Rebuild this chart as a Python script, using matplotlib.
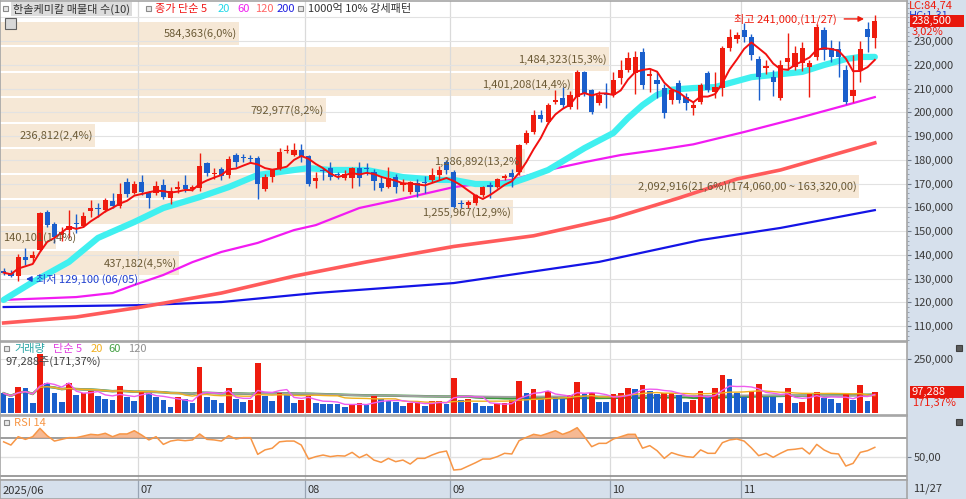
import numpy as np
import pandas as pd
import matplotlib
matplotlib.use("Agg")
import matplotlib.pyplot as plt
from matplotlib.patches import Rectangle
from matplotlib.ticker import FuncFormatter, MultipleLocator

plt.rcParams['font.family'] = ['Noto Sans CJK KR', 'DejaVu Sans']

# ---- daily candles, 2025/06/02 .. 2025/11/27 ----
opens = [133000,132500,131000,139000,138500,142000,158000,153000,148500,150500,
         153500,152000,158500,159500,159000,162500,160500,170500,166000,170500,
         166500,166000,169500,164000,167500,169500,167500,168000,178500,174000,
         176000,173500,182000,181000,180600,180700,167700,172700,176500,183800,
         182000,184000,181600,171000,175500,176500,173800,172300,172300,176500,
         176300,174800,170200,168500,172700,169500,166500,170200,170400,171500,
         173500,179000,174800,161600,161000,161800,165100,169500,168500,172300,
         174400,174800,187100,191700,198800,195900,204500,206000,202200,206400,
         216900,209400,203900,207700,207300,214400,217800,216500,225400,215300,
         213600,210200,205200,212300,206400,201800,204300,216500,208500,210200,
         227000,231000,234600,231700,222400,218500,214800,206000,221000,219000,
         220700,219000,223300,234600,227000,226600,217800,206800,217800,235000,
         231300]
highs = [134500,133500,140500,143000,141500,158000,159000,154000,151500,159000,
         157000,158000,163000,162000,164000,166000,170200,172500,171000,173500,
         167000,171000,172000,168500,171000,173500,169500,183000,179000,176500,
         177000,181500,183000,182500,182000,181500,174000,176000,185000,186200,
         187000,186500,182000,175000,176500,179000,175000,175500,177000,179000,
         178500,176000,173000,177000,174000,172000,171000,172000,173000,176500,
         177500,180000,175500,163000,163000,165500,169000,170500,172500,174000,
         176000,186500,192500,200900,201000,204000,209400,210600,209000,218000,
         217500,210000,209000,212300,217000,222000,225400,226000,227000,218500,
         217000,212000,210000,213500,208000,204500,212500,217500,217000,228000,
         235000,234000,237600,233000,223500,222000,218000,222000,233400,228000,
         229500,222000,237000,236000,230500,230000,220000,224000,230000,238000,
         241000]
lows = [131500,130500,129100,135700,137000,141500,151500,145000,146000,147000,
        149000,151500,156000,156000,158000,159500,159500,164500,165500,165000,
        159500,165000,163500,161500,166000,166500,167000,167000,173000,172000,
        171500,172500,177000,179000,178500,163500,167000,170600,175500,183000,
        181500,179000,169000,168100,171500,171500,172000,171500,168100,169000,
        173500,167300,167000,168000,166000,167000,165500,164500,166000,170500,
        171500,174000,159500,159500,159500,161000,164500,164000,168000,171500,
        168500,173500,186500,191000,196000,195000,203500,202000,201500,201500,
        207000,199300,203000,202000,206500,212000,217000,207500,210000,208500,
        206000,197500,203500,204000,201000,199000,203500,208500,206000,207000,
        226000,229000,229500,222000,205200,216000,207000,205000,218000,218000,
        217500,206500,222000,222000,221000,215000,203500,204500,212700,225400,
        227000]
closes = [132500,131100,139000,138000,140000,157500,152500,147500,149500,152000,
          153000,156500,159500,159200,163000,160500,165500,165500,170000,166500,
          164000,169000,164500,167000,168500,167500,168500,177500,174500,174500,
          173000,180500,179000,180700,180300,169800,172700,175700,183200,184100,
          184000,181000,169800,172300,175300,172700,173500,174000,176500,172300,
          176100,171100,168100,172300,168500,170300,170600,166500,170200,173500,
          175700,175700,160100,161400,162300,165100,168500,168500,171900,173200,
          172700,186200,191300,198800,197200,203000,205200,203000,207300,216900,
          208100,200100,207300,207300,213600,217800,222800,223300,211500,216000,
          212000,199500,209400,205200,203900,203000,211500,209400,210600,227000,
          231700,232500,231700,224100,214800,219300,212700,219900,222800,225000,
          227000,220700,236000,226200,223300,223300,204300,209400,226600,231500,
          238500]
volumes = [92000,69000,123000,115000,46000,273000,138000,92000,54000,141000,
           84000,92000,103000,80000,64000,61000,127000,77000,57000,103000,
           95000,74000,61000,28000,74000,67000,49000,215000,77000,61000,
           49000,118000,64000,52000,61000,230000,80000,57000,95000,84000,
           49000,59000,80000,46000,45000,44000,43000,28000,43000,49000,
           38000,80000,64000,58000,54000,35000,49000,50000,35000,57000,
           58000,41000,164000,61000,66000,46000,35000,32000,46000,49000,
           61000,149000,92000,110000,64000,101000,77000,69000,84000,143000,
           87000,92000,54000,53000,89000,95000,118000,110000,130000,103000,
           89000,92000,95000,84000,54000,61000,103000,74000,115000,175000,
           160000,92000,77000,101000,133000,77000,74000,49000,118000,49000,
           54000,89000,97000,72000,64000,49000,89000,61000,130000,56770,
           97288]
rsi14 = [66.0,62.6,71.4,68.6,71.4,80.2,72.4,66.8,68.6,70.4,
         70.4,72.1,73.9,73.2,75.0,71.4,74.3,74.3,77.7,73.2,
         68.0,71.4,63.3,66.8,68.0,67.2,68.0,74.3,68.6,68.0,
         66.8,72.5,69.0,70.4,70.4,52.8,57.5,59.3,66.0,66.8,
         66.8,62.6,47.9,50.4,52.1,50.4,51.4,51.0,54.9,49.3,
         52.8,46.8,44.4,48.6,45.1,46.8,42.6,48.6,48.6,52.1,
         54.9,56.3,36.3,37.0,40.5,44.0,47.9,47.9,50.4,53.9,
         53.2,67.2,70.7,73.9,72.5,75.0,77.7,73.9,76.7,80.9,
         71.4,60.9,64.4,64.4,69.0,71.4,73.9,73.9,59.3,62.0,
         56.7,48.6,54.6,52.1,50.4,49.7,57.5,53.9,53.9,65.1,
         68.0,69.0,66.8,59.6,51.4,53.9,49.7,53.9,57.5,58.2,
         59.3,53.2,63.3,57.5,53.9,53.2,40.5,43.3,54.9,56.7,
         60.2]

# longer moving averages need history before June, so they are read as points
ma20_idx = [0,4,9,13,18,22,27,31,35,40,42,45,50,55,60,62,65,68,70,72,75,78,80,
            84,86,88,90,92,95,98,100,103,106,110,113,116,118,120]
ma20_val = [121000,128500,137000,147100,153800,159700,164300,168500,173600,175700,
            176500,175700,175700,172700,171500,171500,169800,169800,170200,172300,
            175700,181200,184900,191300,197600,203000,207300,209500,210200,210600,
            212300,214800,215700,217000,219900,222400,223300,223300]
ma60_idx = [0,10,15,18,22,26,30,35,40,43,49,56,62,70,75,80,85,90,95,102,110,116,120]
ma60_val = [121000,122200,123900,127300,131500,136900,141200,145000,150400,152500,
            159700,164300,168500,171500,175700,179000,182000,184100,186500,191700,
            198000,203000,206400]
ma120_idx = [0,10,19,30,40,50,62,73,84,93,101,107,120]
ma120_val = [111300,113800,118000,123900,131000,137000,143500,148000,155500,163900,
             171900,175700,187100]
ma200_idx = [0,19,30,43,62,82,96,107,120]
ma200_val = [118000,118800,120100,123900,128100,137000,146200,151300,158800]

month_start = [0, 19, 42, 62, 84, 102]
month_label = ['2025/06', '07', '08', '09', '10', '11']
last_date = '11/27'
hi_date = '11/27'
lo_date = '06/05'

# volume profile (매물대), bottom band first
band_vol = [437182, 140101, 1255967, 2092916, 1286892, 236812, 792977, 1401208, 1484323, 584363]
band_pct = [4.5, 1.4, 12.9, 21.6, 13.2, 2.4, 8.2, 14.4, 15.3, 6.0]
band_low = 131100
band_step = 10740

RED = '#EE1C0E'
BLUE = '#1A5FCC'
AXBG = '#D6E0EC'
W, H = 966, 499

fig = plt.figure(figsize=(W / 100, H / 100), dpi=100)
fig.patch.set_facecolor('white')


def box(x0, y0, x1, y1):
    return [x0 / W, 1 - y1 / H, (x1 - x0) / W, (y1 - y0) / H]


def ftext(px, py, s, **kw):
    kw.setdefault('va', 'center')
    kw.setdefault('fontsize', 8)
    return fig.text(px / W, 1 - py / H, s, **kw)


def icon(px, py, size=5, fc='#E8E8E8', ec='#8A8A8A'):
    fig.patches.append(Rectangle((px / W, 1 - (py + size) / H), size / W, size / H,
                                 transform=fig.transFigure, fc=fc, ec=ec, lw=0.8, zorder=6))


fig.patches.append(Rectangle((907 / W, 0), 1 - 907 / W, 1, transform=fig.transFigure,
                             fc=AXBG, ec='none', zorder=-1))

ax = fig.add_axes(box(0, 1, 907, 341))
axv = fig.add_axes(box(0, 342, 907, 415), sharex=ax)
axr = fig.add_axes(box(0, 416, 907, 480), sharex=ax)
axx = fig.add_axes(box(0, 480, 907, 499), sharex=ax)

n = len(closes)
x = np.arange(n)
o = np.array(opens, float)
c = np.array(closes, float)
hi = np.array(highs, float)
lo = np.array(lows, float)
vol = np.array(volumes, float)
rsi = np.array(rsi14)

ax.set_xlim(-0.5, 907 / 7.26 - 0.5)
ax.set_ylim(103700, 246850)
axv.set_ylim(-7800, 328000)
axr.set_ylim(25.8, 93.2)
axx.set_ylim(0, 1)

for a in (ax, axv, axr, axx):
    a.tick_params(axis='x', bottom=False, labelbottom=False)
    for s in a.spines.values():
        s.set_color('#A5A5A5')
        s.set_linewidth(1.2)
    for m in month_start[1:]:
        a.axvline(m - 0.5, color='#DADADA' if a is not axx else '#98A4B4', lw=0.9, zorder=0.7)
for a in (ax, axv, axr):
    a.yaxis.tick_right()
    a.tick_params(axis='y', which='major', length=3, color='#6F7C8E', labelsize=8,
                  labelcolor='#3A3A3A', pad=1.5)
    a.tick_params(axis='y', which='minor', length=1.5, color='#8C97A6')

# price panel -------------------------------------------------------------
ax.set_yticks(np.arange(110000, 240000, 10000))
ax.yaxis.set_minor_locator(MultipleLocator(2000))
ax.yaxis.set_major_formatter(FuncFormatter(lambda v, p: f'{int(v):,}'))
for p in range(110000, 250000, 10000):
    ax.axhline(p, color='#E2E2E2', lw=0.8, zorder=0.7)

# volume profile bands
centers = band_low + band_step * (np.arange(len(band_vol)) + 0.5)
widths = np.array(band_pct) * 5.48
ax.barh(centers, widths, left=-0.5, height=band_step - 900, color='#F6E8D6', zorder=0.5)
top = int(np.argmax(band_pct))
for k, (yc, w, v, pc) in enumerate(zip(centers, widths, band_vol, band_pct)):
    lab = f"{v:,}({f'{pc:.1f}'.replace('.', ',')}%)"
    if k == top:
        lab += f"({band_low + (k + 1) * band_step:,},00 ~ {band_low + k * band_step:,},00)"
    if w < 12:
        ax.text(-0.1, yc, lab, ha='left', va='center', fontsize=8, color='#6B5A36', zorder=7)
    else:
        ax.text(w - 0.8, yc, lab, ha='right', va='center', fontsize=8, color='#6B5A36', zorder=7)

ax.plot(ma200_idx, ma200_val, color='#1414E6', lw=1.6, zorder=2)
ax.plot(ma120_idx, ma120_val, color='#FF5B5B', lw=2.6, zorder=2)
ax.plot(ma60_idx, ma60_val, color='#F21BF2', lw=1.6, zorder=2)
ax.plot(ma20_idx, ma20_val, color='#40F0F0', lw=4.5, zorder=2.5, solid_capstyle='round')

up = c >= o
cols = np.where(up, RED, BLUE)
ax.vlines(x, lo, hi, colors=cols, lw=1, zorder=4)
ax.bar(x, np.maximum(np.abs(c - o), 450), bottom=np.minimum(o, c), width=0.72,
       color=cols, lw=0, zorder=5)
ma5 = pd.Series(c).rolling(5, min_periods=1).mean()
ax.plot(x, ma5, color='#F21010', lw=1.4, zorder=6)

# high / low markers
hi_i = int(np.argmax(hi))
lo_i = int(np.argmin(lo))
ax.annotate('', xy=(hi_i - 1.1, hi[hi_i] - 1700), xytext=(hi_i - 4.6, hi[hi_i] - 1700),
            arrowprops=dict(arrowstyle='-|>', color=RED, lw=1, mutation_scale=8), zorder=8)
ax.text(hi_i - 5.2, hi[hi_i] - 1700, f'최고 {int(hi[hi_i]):,},({hi_date})', ha='right',
        va='center', fontsize=8, color=RED, zorder=8)
ax.annotate('', xy=(lo_i + 0.7, lo[lo_i] + 700), xytext=(lo_i + 2.3, lo[lo_i] + 700),
            arrowprops=dict(arrowstyle='-|>', color='#2040D0', lw=1, mutation_scale=8), zorder=8)
ax.text(lo_i + 2.5, lo[lo_i] + 700, f'최저 {int(lo[lo_i]):,} ({lo_date})', ha='left',
        va='center', fontsize=8, color='#2040D0', zorder=8)

# volume panel ------------------------------------------------------------
vup = np.r_[False, vol[1:] > vol[:-1]]
axv.set_yticks([250000])
axv.yaxis.set_major_formatter(FuncFormatter(lambda v, p: f'{int(v):,}'))
axv.axhline(250000, color='#E2E2E2', lw=0.8, zorder=0.7)
vs = pd.Series(vol)
axv.plot(x, vs.rolling(60, min_periods=1).mean(), color='#3C9A3C', lw=1.8, zorder=1)
axv.plot(x, vs.rolling(120, min_periods=1).mean(), color='#A0A0A0', lw=1.4, zorder=1)
axv.bar(x, vol, width=0.78, color=np.where(vup, RED, BLUE), lw=0, zorder=2)
axv.plot(x, vs.rolling(20, min_periods=1).mean(), color='#F0B020', lw=1, zorder=3)
axv.plot(x, vs.rolling(5, min_periods=1).mean(), color='#EE5CEE', lw=1, zorder=3)

# RSI panel ---------------------------------------------------------------
axr.set_yticks([50])
axr.set_yticklabels(['50,00'])
axr.axhline(70, color='#8C8C8C', lw=1.2, zorder=1)
axr.axhline(50, color='#E2E2E2', lw=1.0, zorder=1)
axr.axhline(30, color='#8C8C8C', lw=1.2, zorder=1)
axr.fill_between(x, rsi, 70, where=rsi > 70, interpolate=True, color='#F5AD80',
                 alpha=0.85, lw=0, zorder=2)
axr.plot(x, rsi, color='#F79646', lw=1.1, zorder=3)

# date strip ----------------------------------------------------------------
axx.set_facecolor(AXBG)
axx.set_yticks([])
for m, lab in zip(month_start, month_label):
    axx.text(m - 0.5 + 0.3, 0.45, lab, ha='left', va='center', fontsize=8, color='#333333')
ftext(913, 489, last_date, color='#333333')

# right-side value boxes ----------------------------------------------------
def value_box(a, val, py_off, label, sub):
    yd = a.transData.transform((0, val))[1]
    yf = yd / fig.bbox.height
    hh = 12 / H
    fig.patches.append(Rectangle((910 / W, yf - hh / 2), 54 / W, hh, transform=fig.transFigure,
                                 fc='#E8170C', ec='none', zorder=7))
    fig.text(912 / W, yf, label, color='white', fontsize=8, va='center', zorder=8)
    fig.text(912 / W, yf - py_off / H, sub, color=RED, fontsize=8, va='center', zorder=8)


ftext(909, 6, 'LC:84,74', color=RED)
ftext(909, 16, 'HC:1,31', color='#2040D0')
chg = (c[-1] / c[-2] - 1) * 100
value_box(ax, c[-1], 11, f'{int(c[-1]):,}', f"{chg:.2f}".replace('.', ',') + '%')
vr = vol[-1] / vol[-2] * 100
value_box(axv, vol[-1], 11, f'{int(vol[-1]):,}', f"{vr:.2f}".replace('.', ',') + '%')

# legends -------------------------------------------------------------------
icon(3, 6)
ftext(13, 9, '한솔케미칼 매물대 수(10)', color='#333333',
      bbox=dict(boxstyle='square,pad=0.15', fc='#DCDCDC', ec='none'))
icon(146, 6)
ftext(155, 9, '종가 단순 5', color='#F01818')
ftext(218, 9, '20', color='#22D8E8')
ftext(237, 9, '60', color='#F020F0')
ftext(255, 9, '120', color='#FF6666')
ftext(277, 9, '200', color='#2020E0')
icon(298, 6)
ftext(308, 9, '1000억 10% 강세패턴', color='#333333')
icon(5, 18, size=11, fc='#D8D8D8', ec='#606060')

icon(4, 346)
ftext(14, 349, '거래량', color='#2AA6A6')
ftext(53, 349, '단순 5', color='#E040E0')
ftext(91, 349, '20', color='#F0B020')
ftext(108, 349, '60', color='#44A044')
ftext(128, 349, '120', color='#909090')
ftext(5, 362, f'{int(vol[-1]):,}주(' + f"{vr:.2f}".replace('.', ',') + '%)', color='#404040')

icon(4, 420)
ftext(14, 423, 'RSI 14', color='#F79646')

icon(956, 345, size=6, fc='#5A5A5A', ec='#404040')
icon(956, 419, size=6, fc='#5A5A5A', ec='#404040')

fig.savefig('out.png', dpi=100)
